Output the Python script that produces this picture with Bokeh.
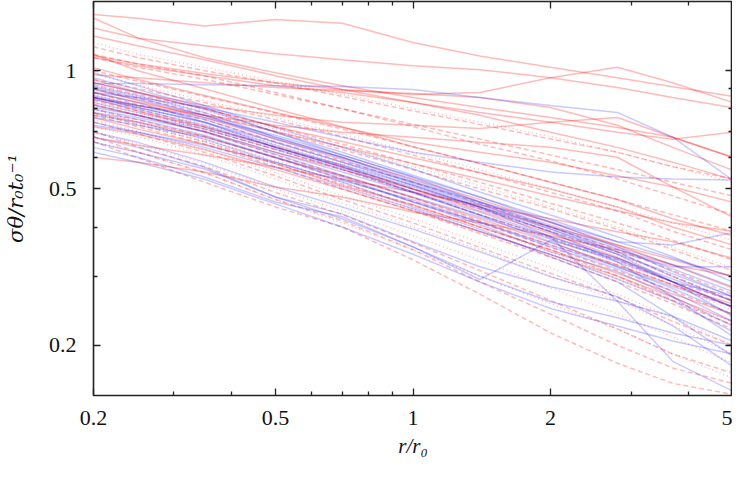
from bokeh.plotting import figure
from bokeh.models import Range1d, FixedTicker, LogAxis, CustomJSTickFormatter
from bokeh.embed import file_html
from bokeh.resources import INLINE

# sample radii r/r0 (common grid of all curves)
R = [0.2, 0.25, 0.35, 0.5, 0.7, 1.0, 1.4, 2.0, 2.8, 3.7, 5.0]

# red solid curves
red_solid = [
    [1.39, 1.36, 1.30, 1.35, 1.32, 1.18, 1.09, 1.02, 0.96, 0.91, 0.86],
    [1.285, 1.21, 1.157, 1.104, 1.066, 1.03, 1.006, 0.96, 0.906, 0.855, 0.806],
    [1.091, 1.042, 0.983, 0.932, 0.895, 0.87, 0.88, 0.96, 1.02, 0.932, 0.83],
    [1.362, 1.212, 1.079, 0.988, 0.916, 0.855, 0.806, 0.76, 0.717, 0.677, 0.602],
    [1.226, 1.157, 1.066, 0.971, 0.895, 0.83, 0.783, 0.739, 0.697, 0.669, 0.697],
    [0.977, 0.96, 0.932, 0.906, 0.89, 0.875, 0.855, 0.806, 0.726, 0.638, 0.558],
    [1.079, 1.03, 0.971, 0.916, 0.88, 0.83, 0.77, 0.697, 0.638, 0.585, 0.529],
    [0.932, 0.88, 0.815, 0.77, 0.739, 0.726, 0.713, 0.739, 0.76, 0.677, 0.602],
    [1.018, 0.95, 0.865, 0.783, 0.717, 0.657, 0.62, 0.585, 0.54, 0.506, 0.463],
    [0.855, 0.815, 0.77, 0.726, 0.697, 0.677, 0.657, 0.638, 0.602, 0.506, 0.424],
    [0.677, 0.646, 0.61, 0.568, 0.529, 0.491, 0.455, 0.42, 0.389, 0.367, 0.333],
    [0.602, 0.585, 0.552, 0.506, 0.477, 0.437, 0.41, 0.38, 0.35, 0.32, 0.30],
    [0.85, 0.79, 0.72, 0.64, 0.57, 0.50, 0.44, 0.385, 0.335, 0.29, 0.25],
    [0.78, 0.74, 0.68, 0.60, 0.54, 0.475, 0.42, 0.365, 0.32, 0.285, 0.255],
    [0.90, 0.84, 0.76, 0.67, 0.60, 0.53, 0.47, 0.41, 0.36, 0.32, 0.28],
    [0.72, 0.69, 0.63, 0.56, 0.50, 0.44, 0.39, 0.34, 0.30, 0.265, 0.23],
    [0.95, 0.88, 0.80, 0.72, 0.66, 0.60, 0.55, 0.50, 0.45, 0.40, 0.36],
    [0.82, 0.77, 0.70, 0.62, 0.56, 0.50, 0.45, 0.40, 0.36, 0.33, 0.30],
    [0.76, 0.71, 0.65, 0.58, 0.51, 0.455, 0.40, 0.35, 0.305, 0.27, 0.24],
    [1.10, 1.00, 0.90, 0.80, 0.72, 0.64, 0.58, 0.52, 0.47, 0.42, 0.38],
    [0.88, 0.83, 0.77, 0.70, 0.64, 0.58, 0.53, 0.48, 0.44, 0.41, 0.39],
]

# red dashed curves
red_dashed = [
    [1.15, 1.08, 1.00, 0.93, 0.86, 0.79, 0.73, 0.67, 0.62, 0.57, 0.53],
    [1.08, 1.02, 0.95, 0.87, 0.80, 0.73, 0.67, 0.61, 0.56, 0.52, 0.48],
    [1.00, 0.94, 0.86, 0.78, 0.71, 0.64, 0.58, 0.52, 0.47, 0.43, 0.39],
    [0.92, 0.87, 0.80, 0.72, 0.65, 0.58, 0.52, 0.46, 0.41, 0.37, 0.33],
    [0.88, 0.82, 0.75, 0.66, 0.59, 0.52, 0.46, 0.40, 0.35, 0.31, 0.27],
    [0.84, 0.79, 0.71, 0.63, 0.56, 0.49, 0.43, 0.375, 0.33, 0.29, 0.26],
    [0.80, 0.75, 0.68, 0.60, 0.53, 0.465, 0.41, 0.355, 0.31, 0.275, 0.24],
    [0.77, 0.72, 0.65, 0.57, 0.50, 0.44, 0.385, 0.335, 0.29, 0.255, 0.22],
    [0.74, 0.69, 0.62, 0.54, 0.47, 0.41, 0.355, 0.305, 0.265, 0.23, 0.20],
    [0.68, 0.62, 0.55, 0.47, 0.415, 0.35, 0.29, 0.24, 0.20, 0.175, 0.16],
    [0.66, 0.60, 0.52, 0.45, 0.40, 0.33, 0.27, 0.215, 0.18, 0.16, 0.15],
    [0.70, 0.64, 0.57, 0.49, 0.43, 0.365, 0.31, 0.26, 0.22, 0.19, 0.17],
    [0.86, 0.80, 0.72, 0.64, 0.57, 0.50, 0.445, 0.39, 0.345, 0.30, 0.26],
    [0.90, 0.85, 0.78, 0.70, 0.63, 0.56, 0.50, 0.445, 0.395, 0.35, 0.31],
    [0.95, 0.90, 0.83, 0.75, 0.68, 0.61, 0.55, 0.49, 0.44, 0.39, 0.35],
    [0.78, 0.73, 0.66, 0.58, 0.515, 0.455, 0.40, 0.35, 0.30, 0.26, 0.225],
    [0.82, 0.77, 0.70, 0.61, 0.54, 0.475, 0.415, 0.36, 0.32, 0.285, 0.25],
    [1.10, 1.04, 0.97, 0.88, 0.80, 0.72, 0.65, 0.59, 0.53, 0.48, 0.43],
]

# red dotted curves
red_dotted = [
    [1.18, 1.10, 1.02, 0.94, 0.87, 0.80, 0.74, 0.68, 0.62, 0.57, 0.52],
    [0.98, 0.92, 0.84, 0.76, 0.69, 0.62, 0.56, 0.50, 0.45, 0.41, 0.37],
    [0.87, 0.81, 0.73, 0.65, 0.58, 0.51, 0.45, 0.39, 0.34, 0.30, 0.26],
    [0.80, 0.74, 0.67, 0.59, 0.52, 0.455, 0.40, 0.345, 0.30, 0.26, 0.225],
    [0.75, 0.70, 0.63, 0.55, 0.48, 0.42, 0.365, 0.315, 0.27, 0.235, 0.20],
    [0.70, 0.65, 0.58, 0.50, 0.44, 0.38, 0.33, 0.28, 0.24, 0.21, 0.18],
    [0.66, 0.62, 0.55, 0.47, 0.41, 0.35, 0.30, 0.255, 0.22, 0.19, 0.165],
    [0.83, 0.78, 0.71, 0.63, 0.56, 0.49, 0.43, 0.375, 0.325, 0.285, 0.245],
    [0.92, 0.86, 0.79, 0.71, 0.64, 0.57, 0.51, 0.45, 0.40, 0.355, 0.315],
    [0.78, 0.73, 0.66, 0.58, 0.51, 0.445, 0.39, 0.34, 0.295, 0.26, 0.23],
    [0.72, 0.68, 0.61, 0.53, 0.46, 0.40, 0.35, 0.30, 0.26, 0.225, 0.19],
]

# blue solid curves
blue_solid = [
    [0.927, 0.927, 0.921, 0.916, 0.911, 0.895, 0.855, 0.815, 0.783, 0.677, 0.527],
    [0.88, 0.855, 0.806, 0.739, 0.677, 0.62, 0.585, 0.552, 0.536, 0.53, 0.527],
    [0.855, 0.806, 0.739, 0.657, 0.585, 0.521, 0.463, 0.412, 0.367, 0.36, 0.387],
    [0.96, 0.895, 0.806, 0.697, 0.62, 0.542, 0.477, 0.418, 0.367, 0.333, 0.299],
    [0.906, 0.855, 0.77, 0.677, 0.602, 0.527, 0.463, 0.404, 0.356, 0.321, 0.282],
    [0.855, 0.806, 0.739, 0.646, 0.575, 0.50, 0.445, 0.389, 0.341, 0.304, 0.266],
    [0.806, 0.77, 0.71, 0.631, 0.562, 0.491, 0.437, 0.378, 0.333, 0.29, 0.251],
    [0.76, 0.726, 0.677, 0.602, 0.536, 0.463, 0.412, 0.36, 0.317, 0.279, 0.24],
    [0.88, 0.83, 0.739, 0.638, 0.568, 0.506, 0.45, 0.389, 0.326, 0.266, 0.211],
    [0.83, 0.783, 0.717, 0.638, 0.575, 0.511, 0.45, 0.395, 0.346, 0.299, 0.259],
    [0.783, 0.752, 0.685, 0.602, 0.529, 0.463, 0.406, 0.346, 0.308, 0.266, 0.224],
    [0.739, 0.697, 0.638, 0.568, 0.506, 0.445, 0.389, 0.341, 0.295, 0.259, 0.217],
    [0.638, 0.602, 0.536, 0.463, 0.425, 0.356, 0.30, 0.258, 0.235, 0.215, 0.20],
    [0.677, 0.638, 0.568, 0.477, 0.42, 0.356, 0.294, 0.37, 0.33, 0.29, 0.25],
    [0.855, 0.815, 0.752, 0.657, 0.585, 0.511, 0.45, 0.378, 0.259, 0.182, 0.153],
    [0.932, 0.88, 0.797, 0.697, 0.61, 0.536, 0.477, 0.412, 0.356, 0.308, 0.266],
    [0.895, 0.845, 0.77, 0.669, 0.595, 0.516, 0.455, 0.40, 0.352, 0.313, 0.274],
    [0.726, 0.697, 0.646, 0.585, 0.525, 0.469, 0.412, 0.356, 0.313, 0.274, 0.23],
    [0.815, 0.77, 0.697, 0.613, 0.542, 0.477, 0.424, 0.373, 0.326, 0.29, 0.266],
    [0.77, 0.739, 0.669, 0.585, 0.521, 0.45, 0.395, 0.336, 0.29, 0.237, 0.188],
    [0.697, 0.657, 0.585, 0.506, 0.45, 0.395, 0.346, 0.299, 0.266, 0.224, 0.177],
    [0.988, 0.916, 0.815, 0.717, 0.638, 0.562, 0.491, 0.429, 0.378, 0.336, 0.29],
    [0.797, 0.76, 0.70, 0.62, 0.552, 0.488, 0.429, 0.378, 0.333, 0.295, 0.259],
    [0.845, 0.797, 0.726, 0.638, 0.568, 0.491, 0.429, 0.367, 0.317, 0.282, 0.251],
    [0.62, 0.585, 0.529, 0.458, 0.40, 0.341, 0.29, 0.248, 0.224, 0.205, 0.19],
    [0.657, 0.62, 0.562, 0.477, 0.432, 0.367, 0.317, 0.282, 0.259, 0.237, 0.205],
    [0.865, 0.815, 0.76, 0.685, 0.61, 0.536, 0.463, 0.40, 0.346, 0.317, 0.317],
    [0.911, 0.865, 0.783, 0.677, 0.602, 0.521, 0.458, 0.395, 0.341, 0.29, 0.237],
]

x_ticks = [0.2, 0.5, 1, 2, 5]
x_minor = [0.3, 0.4, 0.6, 0.7, 0.8, 0.9, 3, 4]
y_ticks = [0.2, 0.5, 1]
y_minor = [0.3, 0.4, 0.6, 0.7, 0.8, 0.9]

FONT = "Liberation Serif"

p = figure(width=732, height=463, x_axis_type="log", y_axis_type="log",
           x_range=Range1d(0.2, 5), y_range=Range1d(0.149, 1.5),
           output_backend="svg", toolbar_location=None,
           min_border_left=91, min_border_right=0, min_border_top=1,
           min_border_bottom=68)
p.grid.visible = False
p.outline_line_color = "#222222"
p.outline_line_width = 1.6
p.background_fill_color = "white"
p.border_fill_color = "white"

p.multi_line(xs=[R] * len(red_solid), ys=red_solid, line_color="red",
             line_alpha=0.27, line_width=1.5)
p.multi_line(xs=[R] * len(red_dashed), ys=red_dashed, line_color="red",
             line_alpha=0.27, line_width=1.5, line_dash="5 3")
p.multi_line(xs=[R] * len(red_dotted), ys=red_dotted, line_color="red",
             line_alpha=0.27, line_width=1.5, line_dash="1 3")
p.multi_line(xs=[R] * len(blue_solid), ys=blue_solid, line_color="blue",
             line_alpha=0.21, line_width=1.5)

fmt = CustomJSTickFormatter(code="return tick.toString();")
blank = CustomJSTickFormatter(code="return '';")


def style(ax, ticks, minor, labels=True):
    ax.ticker = FixedTicker(ticks=ticks, minor_ticks=minor)
    ax.axis_line_color = None
    ax.major_tick_in = 7
    ax.major_tick_out = 0
    ax.minor_tick_in = 4
    ax.minor_tick_out = 0
    ax.major_tick_line_color = "#222222"
    ax.minor_tick_line_color = "#222222"
    ax.major_tick_line_width = 1.3
    ax.minor_tick_line_width = 1.3
    if labels:
        ax.formatter = fmt
        ax.major_label_text_font = FONT
        ax.major_label_text_font_size = "22px"
        ax.major_label_text_color = "#111111"
        ax.axis_label_text_font = FONT
        ax.axis_label_text_font_size = "21px"
        ax.axis_label_text_font_style = "italic"
        ax.axis_label_text_color = "#111111"
    else:
        ax.formatter = blank
        ax.major_label_standoff = 0


style(p.xaxis[0], x_ticks, x_minor)
style(p.yaxis[0], y_ticks, y_minor)
p.xaxis[0].axis_label = "r/r₀"
p.xaxis[0].major_label_standoff = 15
p.xaxis[0].axis_label_standoff = 6
p.yaxis[0].axis_label = "σθ/r₀t₀⁻¹"
p.yaxis[0].axis_label_text_font = "DejaVu Serif"
p.yaxis[0].axis_label_text_font_size = "21px"
p.yaxis[0].major_label_standoff = 17
p.yaxis[0].axis_label_standoff = 18

top = LogAxis()
right = LogAxis()
style(top, x_ticks, x_minor, labels=False)
style(right, y_ticks, y_minor, labels=False)
p.add_layout(top, "above")
p.add_layout(right, "right")

open("out.html", "w").write(file_html(p, INLINE))
